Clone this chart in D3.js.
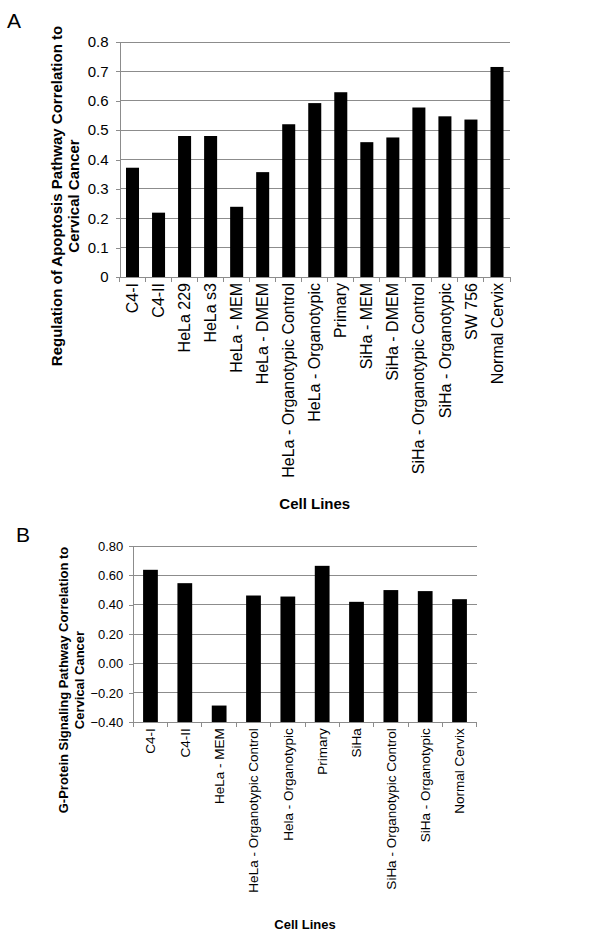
<!DOCTYPE html>
<html><head><meta charset="utf-8">
<script src="https://cdn.jsdelivr.net/npm/d3@7"></script>
<style>body{margin:0;background:#fff}svg{display:block;font-family:"Liberation Sans",Arial,sans-serif}</style>
</head><body><svg id="c" width="600" height="940"></svg>
<script>
const catsA = ["C4-I","C4-II","HeLa 229","HeLa s3","HeLa - MEM","HeLa - DMEM","HeLa - Organotypic Control","HeLa - Organotypic","Primary","SiHa - MEM","SiHa - DMEM","SiHa - Organotypic Control","SiHa - Organotypic","SW 756","Normal Cervix"];
const valsA = [0.372,0.219,0.480,0.480,0.239,0.357,0.520,0.592,0.629,0.459,0.475,0.577,0.547,0.536,0.715];
const ticksA = [0,0.1,0.2,0.3,0.4,0.5,0.6,0.7,0.8];
const catsB = ["C4-I","C4-II","HeLa - MEM","HeLa - Organotypic Control","Hela - Organotypic","Primary","SiHa","SiHa - Organotypic Control","SiHa - Organotypic","Normal Cervix"];
const valsB = [0.638,0.547,-0.286,0.463,0.456,0.665,0.420,0.500,0.493,0.438];
const ticksB = [-0.4,-0.2,0,0.2,0.4,0.6,0.8];

const svg = d3.select("#c");
const grid = "#8c8c8c";

function panel(o){
  const g = svg.append("g");
  const x = d3.scaleBand().domain(o.cats).range([o.x0,o.x1]).padding(0);
  const y = d3.scaleLinear().domain(o.dom).range([o.y1,o.y0]);
  g.selectAll("line.grid").data(o.ticks).join("line")
    .attr("x1",o.x0).attr("x2",o.x1).attr("y1",d=>y(d)).attr("y2",d=>y(d))
    .attr("stroke",grid).attr("stroke-width",1).attr("shape-rendering","crispEdges");
  const ya = d3.axisLeft(y).tickValues(o.ticks).tickFormat(o.fmt).tickSize(4).tickPadding(o.tpad);
  const yg = g.append("g").attr("transform",`translate(${o.x0},0)`).call(ya);
  yg.selectAll("path,line").attr("stroke",grid).attr("shape-rendering","crispEdges");
  yg.selectAll("text").attr("font-size",o.fs).attr("fill","#000").attr("font-family","Liberation Sans, Arial, sans-serif");
  const bw = x.bandwidth()*o.bar;
  g.selectAll("rect").data(o.vals).join("rect")
    .attr("x",(d,i)=>x(o.cats[i])+(x.bandwidth()-bw)/2)
    .attr("width",bw)
    .attr("y",d=>Math.min(y(d),y(o.base)))
    .attr("height",d=>Math.abs(y(o.base)-y(d)))
    .attr("fill","#000");
  const yb = y(o.base);
  g.append("line").attr("x1",o.x0).attr("x2",o.x1).attr("y1",yb).attr("y2",yb)
    .attr("stroke",grid).attr("shape-rendering","crispEdges");
  const bounds = o.cats.map(c=>x(c)).concat([o.x1]);
  g.selectAll("line.xt").data(bounds).join("line").attr("class","xt")
    .attr("x1",d=>d).attr("x2",d=>d).attr("y1",yb).attr("y2",yb+5)
    .attr("stroke",grid).attr("shape-rendering","crispEdges");
  g.selectAll("text.xl").data(o.cats).join("text").attr("class","xl")
    .attr("transform",d=>`translate(${x(d)+x.bandwidth()/2},${yb+o.lpad}) rotate(-90)`)
    .attr("text-anchor","end").attr("dy","0.35em")
    .attr("font-size",o.xfs).text(d=>d);
  g.append("text").attr("x",(o.x0+o.x1)/2).attr("y",o.xty).attr("text-anchor","middle")
    .attr("font-weight","bold").attr("font-size",o.tfs).text("Cell Lines");
  o.ytitle.forEach((t,i)=>{
    g.append("text").attr("transform",`translate(${o.ytx[i]},${o.ytc}) rotate(-90)`)
      .attr("text-anchor","middle").attr("font-weight","bold").attr("font-size",o.tfs).text(t);
  });
  g.append("text").attr("x",o.lx).attr("y",o.ly).attr("font-size",21).text(o.letter);
}

panel({cats:catsA,vals:valsA,ticks:ticksA,dom:[0,0.8],base:0,x0:119.5,x1:510,y0:42,y1:277,
  fmt:d3.format(".1~f"),fs:15,xfs:16,tfs:15,tpad:7,bar:0.5,lpad:6,xty:509,
  ytitle:["Regulation of Apoptosis Pathway Correlation to","Cervical Cancer"],ytx:[62,79],ytc:196,
  letter:"A",lx:7,ly:28});
panel({cats:catsB,vals:valsB,ticks:ticksB,dom:[-0.4,0.8],base:-0.4,x0:133.3,x1:476.7,y0:546,y1:722.3,
  fmt:d3.format(".2f"),fs:13,xfs:13.5,tfs:13,tpad:6,bar:0.43,lpad:6,xty:929,
  ytitle:["G-Protein Signaling Pathway Correlation to","Cervical Cancer"],ytx:[68,84],ytc:680,
  letter:"B",lx:16,ly:542});
</script></body></html>
